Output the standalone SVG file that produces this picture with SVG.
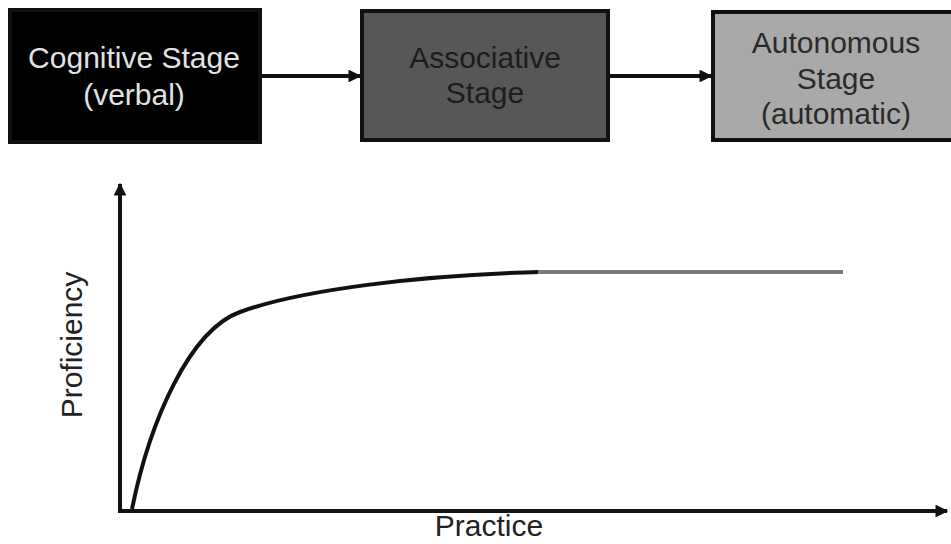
<svg xmlns="http://www.w3.org/2000/svg" width="951" height="544" viewBox="0 0 951 544">
<style>
.box{stroke:#111;stroke-width:4}
.lbl{font-family:"Liberation Sans",Arial,sans-serif;font-size:30px;text-anchor:middle}
.ln{fill:none;stroke:#111;stroke-width:4}
</style>
<defs>
<marker id="ah" viewBox="0 0 10 10" refX="9" refY="5" markerWidth="3.2" markerHeight="3.2" orient="auto" markerUnits="strokeWidth">
<path d="M0,0 L10,5 L0,10 z" fill="#111"/>
</marker>
</defs>
<rect width="951" height="544" fill="#fff"/>
<g id="cognitive">
<rect class="box" x="10" y="10" width="250" height="132" fill="#000" stroke="#000"/>
<text class="lbl" x="134" y="68" fill="#e2e2e2">Cognitive Stage</text>
<text class="lbl" x="134" y="105" fill="#e2e2e2">(verbal)</text>
</g>
<g id="associative">
<rect class="box" x="362" y="11" width="246" height="129" fill="#575757"/>
<text class="lbl" x="485" y="68" fill="#1c1c1c">Associative</text>
<text class="lbl" x="485" y="103" fill="#1c1c1c">Stage</text>
</g>
<g id="autonomous">
<rect class="box" x="713" y="12" width="250" height="128" fill="#a9a9a9"/>
<text class="lbl" x="836" y="53" fill="#2a2a2a">Autonomous</text>
<text class="lbl" x="836" y="89" fill="#2a2a2a">Stage</text>
<text class="lbl" x="836" y="124" fill="#2a2a2a">(automatic)</text>
</g>
<g id="connectors">
<line class="ln" x1="260" y1="76" x2="360" y2="76" marker-end="url(#ah)"/>
<line class="ln" x1="608" y1="76" x2="711" y2="76" marker-end="url(#ah)"/>
</g>
<g id="chart">
<line class="ln" x1="120" y1="512" x2="120" y2="184" marker-end="url(#ah)"/>
<line class="ln" x1="118" y1="511" x2="947" y2="511" marker-end="url(#ah)"/>
<path class="ln" d="M132,509 C150,420 190,330 240,312 C300,290 420,275 540,272"/>
<line x1="538" y1="272" x2="843" y2="272" stroke="#7a7a7a" stroke-width="4"/>
<text class="lbl" x="489" y="536" fill="#222">Practice</text>
<text class="lbl" transform="translate(82,345) rotate(-90)" fill="#222">Proficiency</text>
</g>
</svg>
